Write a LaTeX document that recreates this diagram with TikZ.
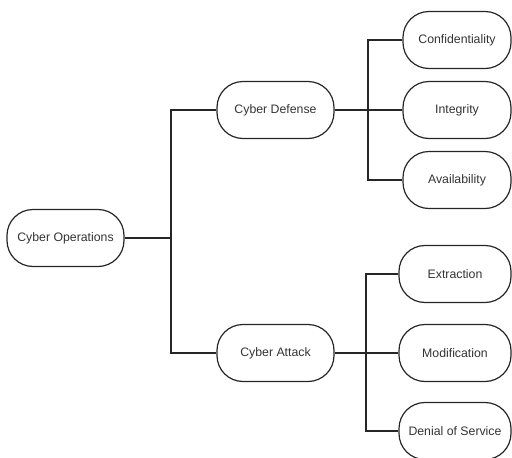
\documentclass[tikz,border=0pt]{standalone}
\usepackage{fontspec}
\setmainfont{Liberation Sans}
\begin{document}
\begin{tikzpicture}[x=1pt,y=-1pt,
  pill/.style={draw=black!85, line width=1.2pt, rounded corners=26pt,
    minimum height=57pt, inner sep=0pt, font=\fontsize{12.3}{14}\selectfont,
    text=black!80},
  wide/.style={pill, minimum width=117pt},
  leaf/.style={pill, minimum width=108pt},
  link/.style={draw=black!85, line width=1.2pt}]
\useasboundingbox (0,0) rectangle (512,458);

% root and the two main branches
\node[wide] (ops) at (65.5,238) {Cyber Operations};
\node[wide] (def) at (275.5,110) {Cyber Defense};
\node[wide] (att) at (275.5,353) {Cyber Attack};

% defense goals
\node[leaf] (conf)  at (457,40)  {Confidentiality};
\node[leaf] (integ) at (457,110) {Integrity};
\node[leaf] (avail) at (457,180) {Availability};

% attack types
\node[leaf, minimum width=112pt] (extr) at (455,274) {Extraction};
\node[leaf, minimum width=112pt] (modi) at (455,353) {Modification};
\node[leaf, minimum width=112pt] (deny) at (455,431) {Denial of Service};

% junction points of the tree
\coordinate (rootj) at (171,238);
\coordinate (defj)  at (368,110);
\coordinate (attj)  at (366,353);

\draw[link] (ops.east) -- (rootj);
\draw[link] (def.west) -| (rootj) |- (att.west);

\draw[link] (def.east) -- (integ.west);
\draw[link] (conf.west) -| (defj) |- (avail.west);

\draw[link] (att.east) -- (modi.west);
\draw[link] (extr.west) -| (attj) |- (deny.west);
\end{tikzpicture}
\end{document}
